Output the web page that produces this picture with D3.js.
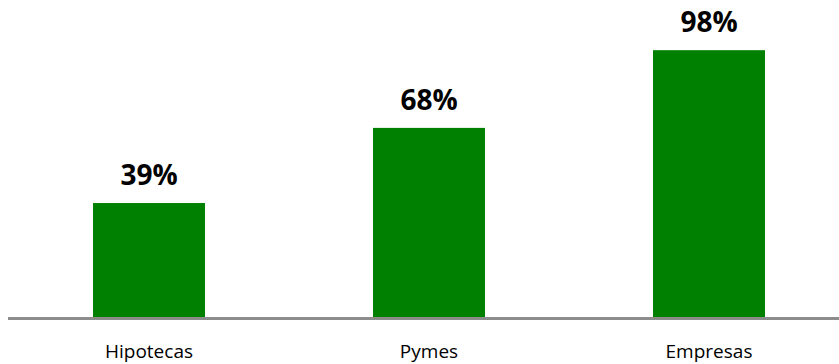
<!DOCTYPE html>
<meta charset="utf-8">
<style>body{margin:0;background:#fff;}</style>
<svg width="839" height="364" font-family="'Open Sans', sans-serif"></svg>
<script src="https://cdn.jsdelivr.net/npm/d3@7"></script>
<script>

var categories = ["Hipotecas", "Pymes", "Empresas"];
var values = [39, 68, 98];

var svg = d3.select("svg"),
    baseline = 317;

var x = d3.scaleBand()
    .domain(categories)
    .range([9, 849])
    .paddingInner(0.6)
    .paddingOuter(0.3);

var y = d3.scaleLinear()
    .domain([-5, 100])
    .range([baseline, 45]);

var data = categories.map(function(c, i) { return {name: c, value: values[i]}; });

svg.append("g")
  .selectAll("rect")
  .data(data)
  .enter().append("rect")
    .attr("x", function(d) { return x(d.name); })
    .attr("width", x.bandwidth())
    .attr("y", function(d) { return y(d.value); })
    .attr("height", function(d) { return baseline - y(d.value); })
    .attr("fill", "#008000");

// axis line
svg.append("line")
    .attr("x1", 8)
    .attr("x2", 839)
    .attr("y1", baseline + 1.5)
    .attr("y2", baseline + 1.5)
    .attr("stroke", "#8c8c8c")
    .attr("stroke-width", 3);

svg.append("g")
  .selectAll("text")
  .data(data)
  .enter().append("text")
    .attr("x", function(d) { return x(d.name) + x.bandwidth() / 2; })
    .attr("y", function(d) { return y(d.value) - 18; })
    .attr("text-anchor", "middle")
    .attr("font-size", 28)
    .attr("font-weight", "bold")
    .attr("fill", "#000")
    .text(function(d) { return d.value + "%"; });

svg.append("g")
  .selectAll("text")
  .data(categories)
  .enter().append("text")
    .attr("x", function(d) { return x(d) + x.bandwidth() / 2; })
    .attr("y", 358)
    .attr("text-anchor", "middle")
    .attr("font-size", 19)
    .attr("fill", "#000")
    .text(function(d) { return d; });

</script>
